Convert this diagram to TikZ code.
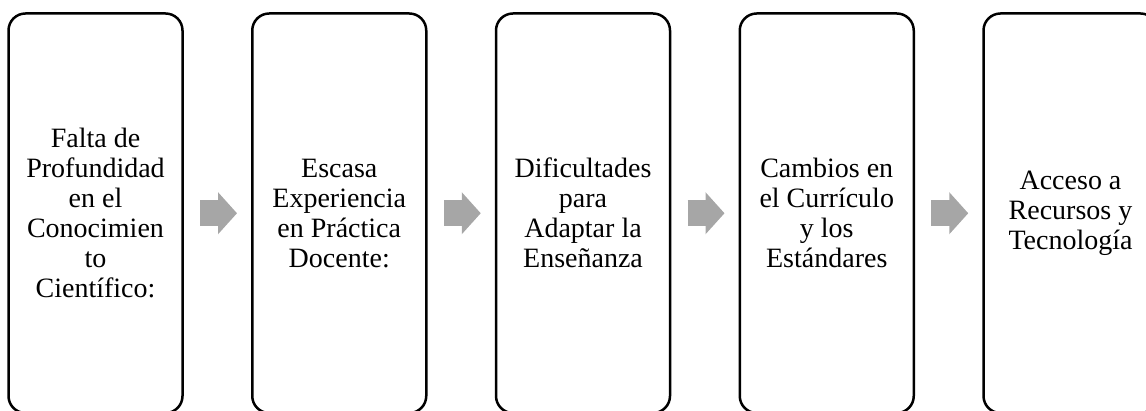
\documentclass[tikz,border=0pt]{standalone}
\usepackage{fontspec}
\setmainfont{Liberation Serif}
\usepackage{xcolor}
\usepackage{tikz}
\usetikzlibrary{arrows.meta, positioning}

\definecolor{arrowgray}{RGB}{166,166,166}

\begin{document}
\begin{tikzpicture}[x=1pt, y=1pt, node distance=69.75pt,
    box/.style={draw, rectangle, rounded corners=17pt, line width=2.5pt, outer sep=0pt, fill=white,
        minimum width=174pt, minimum height=399.5pt, inner sep=0pt, align=center,
        font=\fontsize{28pt}{30pt}\selectfont},
    flow/.style={arrowgray, line width=26pt, -{Triangle[length=19pt, width=41pt]},
        shorten <=17.5pt, shorten >=15.25pt}]
    \clip (0,0) rectangle (1146,411);

    \node[box, anchor=north west] (falta) at (8.5,397.5) {Falta de\\ Profundidad\\ en el\\ Conocimien\\ to\\ Científico:};
    \node[box, right=of falta] (escasa) {Escasa\\ Experiencia\\ en Práctica\\ Docente:};
    \node[box, right=of escasa] (adaptar) {Dificultades\\ para\\ Adaptar la\\ Enseñanza};
    \node[box, right=of adaptar] (cambios) {Cambios en\\ el Currículo\\ y los\\ Estándares};
    \node[box, right=of cambios] (acceso) {Acceso a\\ Recursos y\\ Tecnología};

    \draw[flow] (falta) -- (escasa);
    \draw[flow] (escasa) -- (adaptar);
    \draw[flow] (adaptar) -- (cambios);
    \draw[flow] (cambios) -- (acceso);
\end{tikzpicture}
\end{document}
